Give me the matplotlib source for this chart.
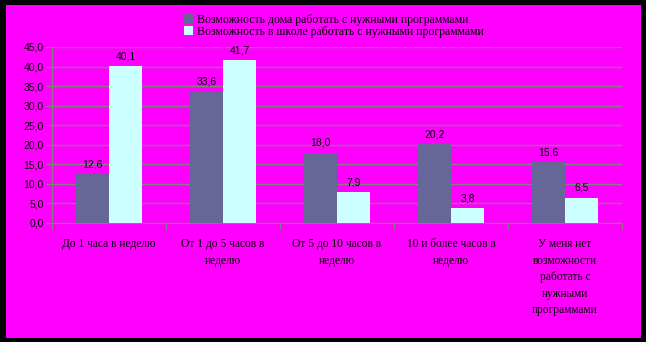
import numpy as np
import matplotlib.pyplot as plt
from matplotlib.patches import Rectangle

categories = ["До 1 часа в неделю", "От 1 до 5 часов в\nнеделю", "От 5 до 10 часов в\nнеделю",
              "10 и более часов в\nнеделю", "У меня нет\nвозможности\nработать с\nнужными\nпрограммами"]
home = [12.6, 33.6, 18.0, 20.2, 15.6]
school = [40.1, 41.7, 7.9, 3.8, 6.5]
series_names = ["Возможность дома работать с нужными программами",
                "Возможность в школе работать с нужными программами"]
yticks = np.arange(0, 50, 5)

def fmt(v):
    return f"{v:.1f}".replace(".", ",")

plt.rcParams['font.family'] = ['Liberation Serif', 'DejaVu Serif']

fig = plt.figure(figsize=(6.46, 3.42), dpi=100)
fig.patch.set_facecolor("black")
fig.patches.append(Rectangle((6 / 646, 4 / 342), 635 / 646, 333 / 342, transform=fig.transFigure,
                             facecolor="#ff00ff", edgecolor="none", zorder=-10))

ax = fig.add_axes([52 / 646, 1 - 223 / 342, 570 / 646, 176 / 342])
ax.set_facecolor("none")

x = np.arange(len(categories))
w = 0.29
b1 = ax.bar(x - w / 2, home, w, color="#666699", zorder=3)
b2 = ax.bar(x + w / 2, school, w, color="#ccffff", zorder=3)

for bars, vals in [(b1, home), (b2, school)]:
    for r, v in zip(bars, vals):
        ax.text(r.get_x() + r.get_width() / 2, v + 1.2, fmt(v), ha="center", va="bottom",
                fontsize=7.5, family="Liberation Sans", color="black")

ax.set_xlim(-0.5, 4.5)
ax.set_ylim(0, 45)
ax.set_yticks(yticks)
ax.set_yticklabels([fmt(v) for v in yticks], fontsize=7.5, family="Liberation Sans")
ax.yaxis.grid(True, color="#808080", linewidth=1, zorder=1)
ax.set_axisbelow(True)

ax.set_xticks(np.arange(-0.5, 5, 1))
ax.set_xticklabels([])
ax.set_xticks(x, minor=True)
ax.set_xticklabels(categories, minor=True)
for t in ax.get_xticklabels(minor=True):
    t.set_fontfamily("Liberation Serif")
    t.set_fontsize(8.3)
    t.set_linespacing(1.5)
    t.set_va("top")
ax.tick_params(axis="x", which="minor", length=0, pad=11)
ax.tick_params(axis="x", which="major", length=4, color="#808080", direction="out")
ax.tick_params(axis="y", length=4, color="#808080", direction="out", pad=2)

for s in ["top", "right"]:
    ax.spines[s].set_visible(False)
for s in ["left", "bottom"]:
    ax.spines[s].set_color("#808080")

fig.legend([b1, b2], series_names, loc="upper left", bbox_to_anchor=(178 / 646, 1 - 8 / 342),
           frameon=False, prop={"family": "Liberation Serif", "size": 8.5},
           handlelength=0.8, handleheight=0.8, handletextpad=0.3, labelspacing=0.0, borderpad=0)

fig.savefig("out.png", dpi=100, facecolor=fig.get_facecolor())
